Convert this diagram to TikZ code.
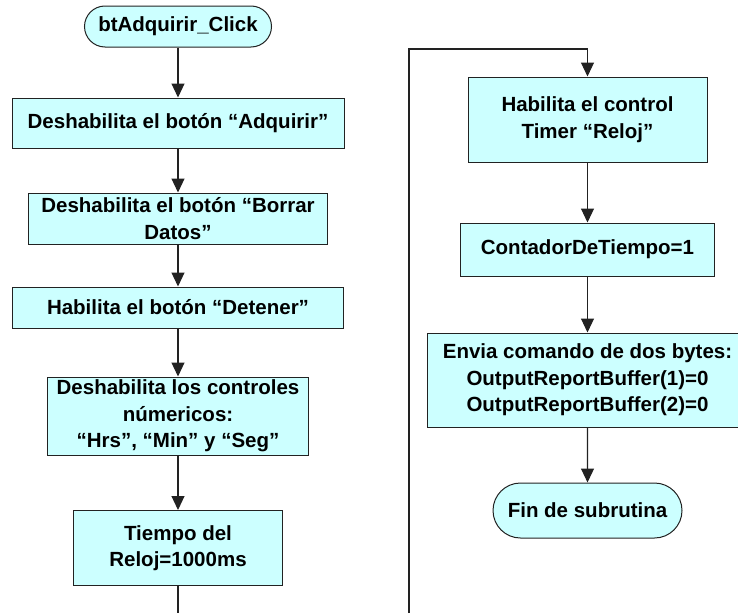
\documentclass[tikz,border=0pt]{standalone}
\usepackage{fontspec}
\setmainfont{Liberation Sans}
\usetikzlibrary{arrows.meta,shapes.misc}
\definecolor{boxfill}{HTML}{CCFFFF}
\definecolor{edge}{HTML}{222222}
\tikzset{
  base/.style={draw=edge, line width=1pt, fill=boxfill, inner sep=0pt, align=center,
    font=\fontsize{20.5}{26.5}\selectfont\bfseries},
  procbox/.style={base, rectangle},
  termbox/.style={base, rounded rectangle},
  conn/.style={draw=edge, line width=1.1pt},
  arr/.style={conn, -{Triangle[length=14pt,width=13pt]}}
}
\begin{document}
\begin{tikzpicture}[x=1pt,y=-1pt]
\useasboundingbox (0,0) rectangle (738,613);
% left column
\node[termbox, minimum width=187pt, minimum height=41pt] (start) at (178,26.5) {btAdquirir\_Click};
\node[procbox, minimum width=332pt, minimum height=50pt] (b1) at (178,123) {Deshabilita el botón “Adquirir”};
\node[procbox, minimum width=299pt, minimum height=51pt] (b2) at (178,218.5) {Deshabilita el botón “Borrar\\Datos”};
\node[procbox, minimum width=331pt, minimum height=41pt] (b3) at (178,307.5) {Habilita el botón “Detener”};
\node[procbox, minimum width=261pt, minimum height=78pt] (b4) at (178,416) {Deshabilita los controles\\númericos:\\“Hrs”, “Min” y “Seg”};
\node[procbox, minimum width=209pt, minimum height=75pt] (b5) at (178,548) {Tiempo del\\Reloj=1000ms};
% right column
\node[procbox, minimum width=239pt, minimum height=85pt] (b6) at (587.5,119.5) {Habilita el control\\Timer “Reloj”};
\node[procbox, minimum width=254pt, minimum height=53pt] (b7) at (587.5,249.5) {ContadorDeTiempo=1};
\node[procbox, minimum width=321pt, minimum height=94pt] (b8) at (587.5,380) {Envia comando de dos bytes:\\OutputReportBuffer(1)=0\\OutputReportBuffer(2)=0};
\node[termbox, minimum width=189pt, minimum height=55pt] (fin) at (587.5,510.5) {Fin de subrutina};
% connector coordinates
\coordinate (c1) at (178,613);
\coordinate (c2) at (409,613);
\coordinate (c3) at (409,49);
% connectors
\draw[arr] (start) -- (b1);
\draw[arr] (b1) -- (b2);
\draw[arr] (b2) -- (b3);
\draw[arr] (b3) -- (b4);
\draw[arr] (b4) -- (b5);
\draw[conn] (b5) -- (c1);
\draw[arr] (c2) -- (c3) -| (b6.north);
\draw[arr] (b6) -- (b7);
\draw[arr] (b7) -- (b8);
\draw[arr] (b8) -- (fin);
\end{tikzpicture}
\end{document}
